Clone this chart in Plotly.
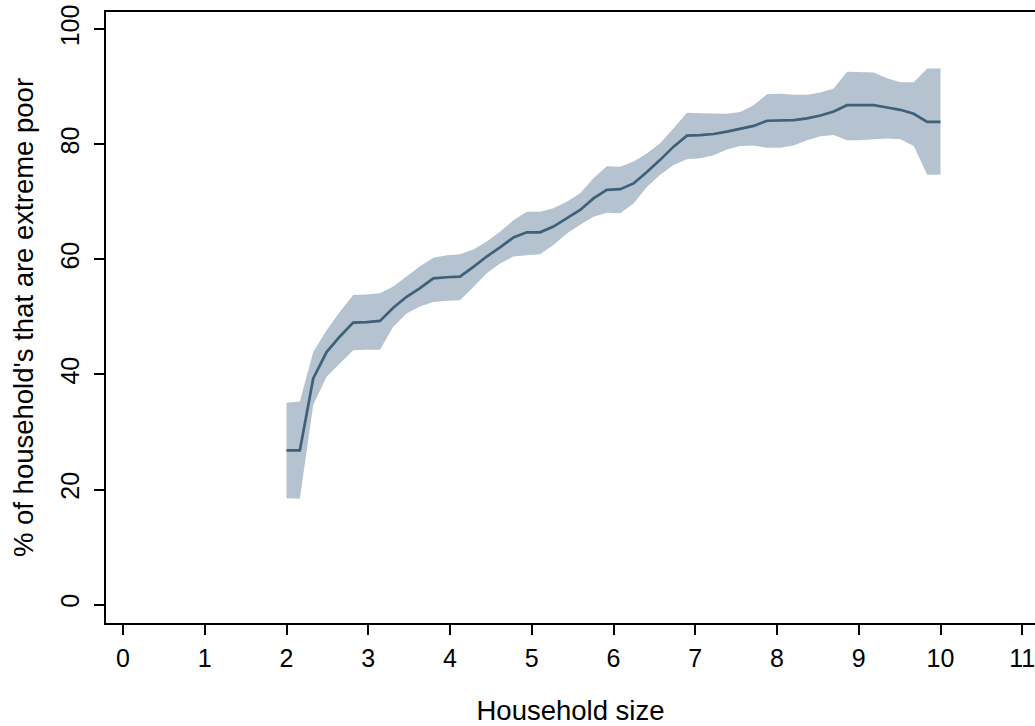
import plotly.graph_objects as go

# lpoly grid (50 points from 2 to 10)
hh_size = [2.000, 2.163, 2.327, 2.490, 2.653, 2.816, 2.980, 3.143, 3.306, 3.469,
           3.633, 3.796, 3.959, 4.122, 4.286, 4.449, 4.612, 4.776, 4.939, 5.102,
           5.265, 5.429, 5.592, 5.755, 5.918, 6.082, 6.245, 6.408, 6.571, 6.735,
           6.898, 7.061, 7.224, 7.388, 7.551, 7.714, 7.878, 8.041, 8.204, 8.367,
           8.531, 8.694, 8.857, 9.020, 9.184, 9.347, 9.510, 9.673, 9.837, 10.000]

pct_poor = [26.8, 26.8, 39.3, 43.9, 46.6, 49.0, 49.1, 49.3, 51.6, 53.5,
            55.0, 56.7, 56.9, 57.0, 58.7, 60.5, 62.1, 63.8, 64.7, 64.7,
            65.7, 67.1, 68.6, 70.6, 72.1, 72.2, 73.2, 75.2, 77.3, 79.6,
            81.5, 81.6, 81.8, 82.2, 82.7, 83.2, 84.1, 84.1, 84.2, 84.5,
            85.0, 85.7, 86.8, 86.8, 86.8, 86.4, 86.0, 85.3, 83.9, 83.9]

ci_upper = [35.1, 35.3, 43.9, 47.7, 50.9, 53.8, 53.9, 54.1, 55.3, 57.0,
            58.8, 60.3, 60.7, 60.9, 61.7, 63.1, 64.8, 66.8, 68.3, 68.3,
            68.9, 70.0, 71.5, 74.1, 76.2, 76.1, 77.0, 78.4, 80.2, 82.8,
            85.5, 85.4, 85.3, 85.3, 85.6, 86.8, 88.7, 88.8, 88.6, 88.6,
            89.0, 89.7, 92.6, 92.6, 92.5, 91.5, 90.8, 90.8, 93.2, 93.2]

ci_lower = [18.5, 18.4, 34.7, 39.6, 41.9, 44.2, 44.3, 44.3, 48.3, 50.6,
            51.8, 52.6, 52.8, 52.9, 55.2, 57.6, 59.3, 60.5, 60.7, 60.9,
            62.5, 64.5, 66.0, 67.4, 68.1, 68.0, 69.7, 72.6, 74.7, 76.4,
            77.4, 77.6, 78.1, 79.1, 79.7, 79.8, 79.4, 79.4, 79.8, 80.7,
            81.4, 81.6, 80.7, 80.7, 80.9, 81.0, 80.9, 79.7, 74.7, 74.7]

x_ticks = list(range(0, 12))
y_ticks = [0, 20, 40, 60, 80, 100]

BAND = "#b4c3cf"
LINE = "#3e6179"
FONT = "Liberation Sans, Arial, sans-serif"

fig = go.Figure()
fig.add_trace(go.Scatter(
    x=hh_size + hh_size[::-1],
    y=ci_upper + ci_lower[::-1],
    fill="toself", fillcolor=BAND, mode="lines",
    line=dict(width=0, color=BAND), hoverinfo="skip", showlegend=False,
))
fig.add_trace(go.Scatter(
    x=hh_size, y=pct_poor, mode="lines",
    line=dict(color=LINE, width=2.7), showlegend=False,
))

fig.update_layout(
    width=1035, height=726,
    margin=dict(l=106, r=0, t=12, b=103),
    paper_bgcolor="white", plot_bgcolor="white",
    font=dict(family=FONT, color="black", size=25),
)
fig.update_xaxes(
    range=[-0.208, 11.156], tickvals=x_ticks, ticktext=[str(v) for v in x_ticks],
    showgrid=False, zeroline=False,
    showline=True, linecolor="black", linewidth=2, mirror=True,
    ticks="outside", ticklen=10, tickwidth=1.5, tickcolor="black",
    tickfont=dict(size=25), ticklabelstandoff=2, ticklabeloverflow="allow",
    title=dict(text="Household size", font=dict(size=27.5), standoff=32),
    automargin=False,
)
fig.update_yaxes(
    range=[-3.2, 103.0], tickvals=y_ticks, ticktext=[str(v) for v in y_ticks],
    showgrid=False, zeroline=False,
    showline=True, linecolor="black", linewidth=2,
    ticks="outside", ticklen=10, tickwidth=1.5, tickcolor="black",
    tickangle=-90, tickfont=dict(size=25), ticklabelstandoff=5,
    title=dict(text="% of household's that are extreme poor", font=dict(size=27.5), standoff=14),
    automargin=False,
)

fig.write_html("out.html")
